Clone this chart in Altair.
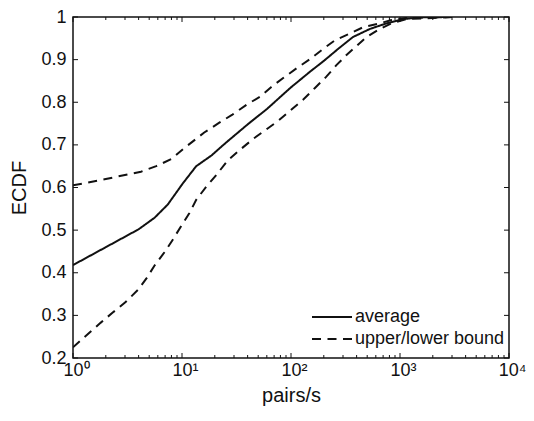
import altair as alt
import pandas as pd

# ---- data ----
avg_x = [1, 2, 4, 5.6, 7.4, 10.2, 13.5, 18.6, 25, 40, 60, 100, 150, 200, 270, 370, 530, 750, 1070, 1500, 3000]
avg_y = [0.418, 0.46, 0.502, 0.529, 0.56, 0.61, 0.65, 0.675, 0.704, 0.748, 0.784, 0.835, 0.872, 0.897, 0.925, 0.953, 0.972, 0.985, 0.995, 0.999, 1.0]

up_x = [1, 2, 4.2, 5.8, 8, 10.2, 16, 22, 29, 39, 52, 66, 87, 116, 149, 197, 252, 346, 458, 630, 835, 1150, 3000]
up_y = [0.605, 0.62, 0.637, 0.65, 0.667, 0.69, 0.729, 0.752, 0.771, 0.794, 0.813, 0.836, 0.859, 0.882, 0.901, 0.925, 0.945, 0.961, 0.976, 0.984, 0.993, 0.998, 1.0]

lo_x = [1, 1.8, 2.3, 3, 3.95, 4.7, 5.6, 6.9, 8.3, 9.85, 11.7, 13.5, 16.7, 20.6, 26.4, 35, 45, 57, 76, 97, 129, 165, 211, 261, 323, 492, 652, 835, 1150, 3000]
lo_y = [0.225, 0.283, 0.306, 0.33, 0.36, 0.386, 0.417, 0.448, 0.479, 0.51, 0.54, 0.571, 0.602, 0.629, 0.664, 0.691, 0.714, 0.733, 0.756, 0.779, 0.806, 0.833, 0.86, 0.887, 0.911, 0.953, 0.972, 0.985, 0.995, 1.0]

legend_labels = ["average", "upper/lower bound"]
y_ticks = [0.2, 0.3, 0.4, 0.5, 0.6, 0.7, 0.8, 0.9, 1.0]
x_ticks = [1, 10, 100, 1000, 10000]
x_minor = [k * 10 ** n for n in range(4) for k in range(2, 10)]

rows = []
for name, kind, xs, ys in [("average", legend_labels[0], avg_x, avg_y),
                           ("upper", legend_labels[1], up_x, up_y),
                           ("lower", legend_labels[1], lo_x, lo_y)]:
    for x, y in zip(xs, ys):
        rows.append({"x": x, "y": y, "series": name, "kind": kind})
df = pd.DataFrame(rows)

W, H = 436, 341
FONT = "Liberation Sans"
INK = "#111111"

xscale = alt.Scale(type="log", domain=[1, 10000], nice=False)
yscale = alt.Scale(domain=[0.2, 1.0], nice=False, zero=False)

xaxis = alt.Axis(title="pairs/s", values=x_ticks,
                 labelExpr="'10' + ['\u2070','\u00b9','\u00b2','\u00b3','\u2074'][round(log(datum.value)/LN10)]",
                 ticks=False, domain=False, grid=False,
                 labelFontSize=18, titleFontSize=20,
                 labelPadding=3, titlePadding=6, labelOffset=3,
                 labelFlush=False, labelOverlap=False)
yaxis = alt.Axis(title="ECDF", values=y_ticks, format="~g",
                 ticks=False, domain=False, grid=False,
                 labelFontSize=18, titleFontSize=20,
                 labelPadding=7, titlePadding=11,
                 labelFlush=False, labelOverlap=False)

lines = alt.Chart(df).mark_line(strokeWidth=2, color=INK, clip=True).encode(
    x=alt.X("x:Q", scale=xscale, axis=xaxis),
    y=alt.Y("y:Q", scale=yscale, axis=yaxis),
    strokeDash=alt.StrokeDash(
        "kind:N",
        scale=alt.Scale(domain=legend_labels, range=[[1, 0], [9, 6.5]]),
        legend=alt.Legend(title=None, orient="none", legendX=250, legendY=291,
                          symbolType="M-2.5,0H2.5", symbolSize=256,
                          symbolStrokeWidth=2, symbolStrokeColor=INK,
                          labelFontSize=18, labelOffset=14, rowPadding=4,
                          padding=0)),
    detail="series:N",
)

ytick_df = pd.DataFrame({"v": y_ticks})
xtick_df = pd.DataFrame({"v": x_ticks})
xminor_df = pd.DataFrame({"v": x_minor})

def yrule(x1, x2):
    return alt.Chart(ytick_df).mark_rule(color=INK, strokeWidth=1).encode(
        y=alt.Y("v:Q", scale=yscale, axis=yaxis), x=alt.value(x1), x2=alt.value(x2))

def xrule(d, y1, y2):
    return alt.Chart(d).mark_rule(color=INK, strokeWidth=1).encode(
        x=alt.X("v:Q", scale=xscale, axis=xaxis), y=alt.value(y1), y2=alt.value(y2))

chart = alt.layer(
    lines,
    yrule(0, 5), yrule(W - 5, W),
    xrule(xtick_df, H - 5, H), xrule(xtick_df, 0, 5),
    xrule(xminor_df, H - 3, H), xrule(xminor_df, 0, 3),
).properties(
    width=W, height=H,
    autosize=alt.AutoSizeParams(type="none"),
    padding={"left": 65, "top": 9, "right": 17, "bottom": 55},
).configure_view(
    stroke=INK, strokeWidth=1.5
).configure_axis(
    labelFont=FONT, titleFont=FONT, labelColor=INK, titleColor=INK,
    titleFontWeight="normal"
).configure_legend(
    labelFont=FONT, labelColor=INK
)

chart.save("out.html", embed_options={"renderer": "svg", "actions": False})
